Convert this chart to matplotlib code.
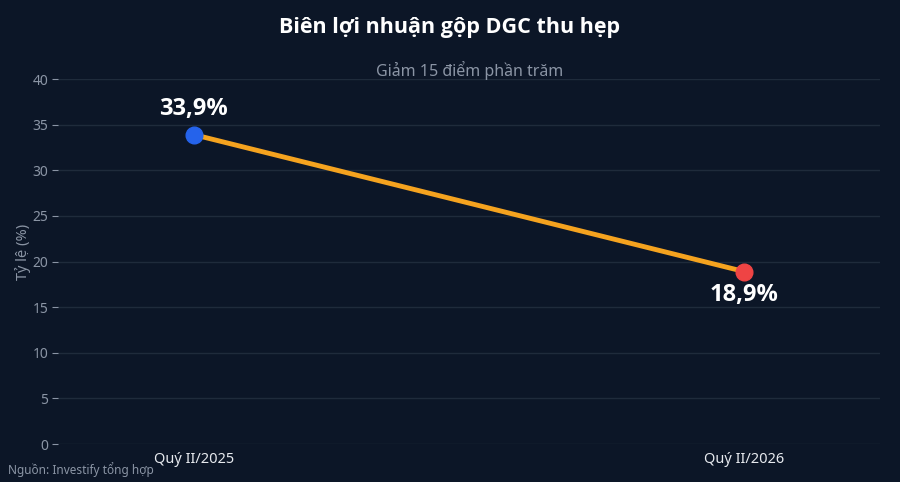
import matplotlib
matplotlib.use("Agg")
import matplotlib.pyplot as plt

plt.rcParams['font.family'] = ['Noto Sans', 'DejaVu Sans']
BOLD = ['Open Sans', 'Noto Sans', 'DejaVu Sans']

categories = ["Quý II/2025", "Quý II/2026"]
values = [33.9, 18.9]
labels = ["33,9%", "18,9%"]
point_colors = ["#2563eb", "#ef4444"]
yticks = [0, 5, 10, 15, 20, 25, 30, 35, 40]

bg = "#0c1627"
fig = plt.figure(figsize=(9, 4.82), dpi=100, facecolor=bg)
ax = fig.add_axes([58/900, 38/482, 822/900, 365/482], facecolor=bg)

x = list(range(len(categories)))
ax.plot(x, values, color="#f5a31f", linewidth=3.5, zorder=2, solid_capstyle='round')
for xi, v, c in zip(x, values, point_colors):
    ax.plot([xi], [v], 'o', color=c, markersize=12, zorder=3)

ax.annotate(labels[0], (x[0], values[0]), xytext=(0, 10), textcoords='offset points',
            ha='center', va='bottom', color='white', fontsize=17, fontweight='bold', family=BOLD)
ax.annotate(labels[1], (x[1], values[1]), xytext=(0, -8), textcoords='offset points',
            ha='center', va='top', color='white', fontsize=17, fontweight='bold', family=BOLD)

ax.set_xlim(-0.247, 1.247)
ax.set_ylim(0, 40)
ax.set_yticks(yticks)
ax.set_xticks(x)
ax.set_xticklabels(categories, color="#e6e9ee", fontsize=10.5)
ax.tick_params(axis='y', colors="#8b95a5", labelsize=10, length=4, width=0.8, pad=3)
ax.tick_params(axis='x', length=0, pad=6)
for lab in ax.get_yticklabels():
    lab.set_color("#8b95a5")
ax.grid(axis='y', color="#1f2b3b", linewidth=1)
ax.set_axisbelow(True)
for s in ax.spines.values():
    s.set_visible(False)

ax.set_ylabel("Tỷ lệ (%)", color="#8b95a5", fontsize=10.5)
ax.yaxis.set_label_coords((31 - 58) / 822, (444 - 252) / 365)

fig.text(0.5, 1 - 28/482, "Biên lợi nhuận gộp DGC thu hẹp", ha='center', va='center',
         color='white', fontsize=15.5, fontweight='bold', family=BOLD)
fig.text(470/900, 1 - 70/482, "Giảm 15 điểm phần trăm", ha='center', va='center',
         color="#8b95a5", fontsize=11.5)
fig.text(8/900, 1 - 470/482, "Nguồn: Investify tổng hợp", ha='left', va='center',
         color="#8b95a5", fontsize=8.5)

fig.savefig("out.png", dpi=100, facecolor=bg)
